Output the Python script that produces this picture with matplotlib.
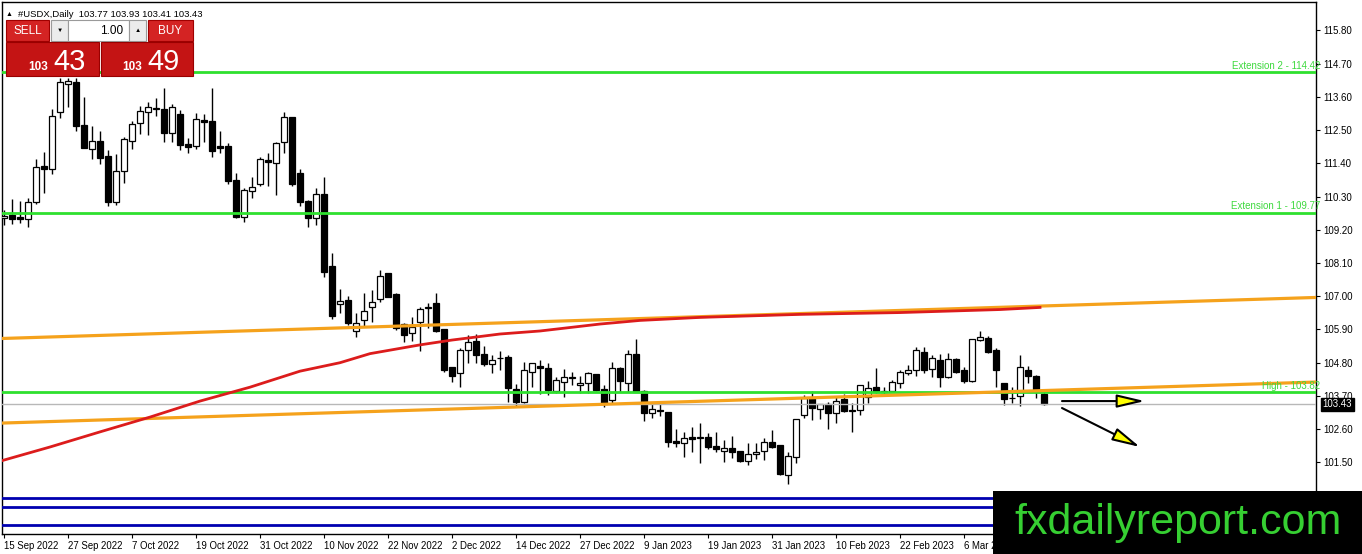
import numpy as np
import matplotlib.pyplot as plt
from matplotlib.patches import Rectangle

plt.rcParams['font.family'] = ['Liberation Sans', 'DejaVu Sans']

# daily candles
opens = [109.59, 109.69, 109.63, 109.55, 110.13, 111.31, 111.22, 113.11, 114.04, 114.09,
         112.67, 111.89, 112.14, 111.64, 110.13, 111.15, 112.15, 112.73, 113.09, 113.21,
         113.20, 112.40, 113.04, 112.04, 111.98, 112.84, 112.79, 111.98, 111.98, 110.85,
         109.63, 110.50, 110.72, 111.51, 111.42, 112.12, 112.93, 111.07, 110.15, 109.58,
         110.39, 108.00, 106.73, 106.88, 105.85, 106.21, 106.63, 106.90, 107.76, 107.08,
         106.07, 105.79, 106.16, 106.60, 106.79, 105.91, 104.65, 104.45, 105.22, 105.52,
         105.08, 104.75, 104.95, 105.00, 103.92, 103.51, 104.50, 104.69, 104.63, 103.88,
         104.17, 104.31, 104.05, 104.12, 104.42, 103.92, 103.56, 104.62, 104.14, 105.09,
         103.86, 103.13, 103.23, 103.18, 102.21, 102.13, 102.35, 102.32, 102.33, 102.04,
         101.88, 101.97, 101.88, 101.56, 101.77, 101.88, 102.16, 102.07, 101.08, 101.69,
         103.06, 103.62, 103.26, 103.42, 103.13, 103.60, 103.23, 103.23, 103.68, 103.98,
         103.84, 103.87, 104.12, 104.45, 104.56, 105.16, 104.59, 104.89, 104.32, 104.91,
         104.56, 104.20, 105.55, 105.61, 105.22, 104.12, 103.62, 103.70, 104.56, 104.36,
         103.77]
highs = [109.86, 110.21, 110.15, 110.26, 111.54, 111.79, 113.20, 114.22, 114.22, 114.22,
         113.61, 112.64, 112.48, 111.84, 111.71, 112.28, 112.81, 113.31, 113.44, 113.55,
         113.89, 113.37, 113.17, 112.23, 113.06, 113.04, 113.89, 112.48, 112.06, 111.09,
         110.58, 110.96, 111.62, 111.73, 112.12, 113.11, 112.93, 111.20, 110.19, 110.58,
         110.96, 108.42, 107.23, 107.01, 106.46, 107.10, 107.21, 107.87, 107.76, 107.10,
         106.11, 106.30, 106.65, 106.79, 107.10, 105.91, 104.65, 105.28, 105.72, 105.75,
         105.35, 105.05, 105.20, 105.05, 104.10, 104.83, 104.80, 104.89, 104.78, 104.34,
         104.58, 104.50, 104.36, 104.50, 104.42, 104.06, 104.83, 104.65, 105.22, 105.58,
         103.90, 103.43, 103.43, 103.18, 102.59, 102.52, 102.66, 102.81, 102.48, 102.52,
         102.24, 102.37, 101.89, 102.13, 102.15, 102.30, 102.57, 102.07, 101.85, 102.93,
         103.73, 103.87, 103.43, 103.51, 103.70, 103.76, 103.46, 104.06, 104.19, 104.61,
         104.01, 104.23, 104.56, 104.72, 105.31, 105.31, 105.05, 105.09, 105.11, 104.95,
         104.67, 105.58, 105.86, 105.68, 105.28, 104.12, 103.98, 105.05, 104.69, 104.39,
         103.93]
lows = [109.36, 109.39, 109.44, 109.30, 110.06, 110.41, 111.03, 112.89, 113.28, 112.47,
        111.92, 111.54, 111.39, 109.99, 110.02, 110.74, 111.88, 112.37, 112.34, 112.95,
        112.09, 112.09, 111.84, 111.73, 111.87, 112.12, 111.62, 111.73, 110.72, 109.58,
        109.47, 110.24, 110.65, 110.65, 110.35, 111.75, 110.65, 109.99, 109.30, 109.36,
        107.65, 106.24, 106.44, 106.05, 105.66, 105.99, 106.16, 106.82, 106.97, 105.88,
        105.50, 105.53, 105.20, 105.94, 105.83, 104.50, 104.17, 104.01, 104.78, 104.78,
        104.69, 104.45, 104.56, 103.51, 103.37, 103.48, 104.01, 103.76, 103.73, 103.81,
        103.68, 104.06, 103.81, 103.81, 103.87, 103.32, 103.43, 103.84, 103.84, 103.82,
        102.88, 102.96, 103.03, 102.02, 102.02, 101.69, 101.85, 101.47, 101.93, 101.85,
        101.52, 101.64, 101.52, 101.41, 101.60, 101.58, 101.99, 101.08, 100.77, 101.49,
        102.96, 102.90, 102.93, 102.60, 102.81, 103.18, 102.52, 103.07, 103.46, 103.81,
        103.73, 103.84, 103.95, 104.39, 104.36, 104.47, 104.34, 104.01, 104.28, 104.45,
        104.12, 104.17, 105.53, 105.11, 104.01, 103.40, 103.46, 103.37, 104.14, 103.62,
        103.41]
closes = [109.66, 109.57, 109.55, 110.13, 111.29, 111.22, 112.97, 114.09, 114.12, 112.65,
          111.92, 112.14, 111.59, 110.13, 111.15, 112.20, 112.70, 113.13, 113.26, 113.21,
          112.40, 113.26, 112.01, 111.95, 112.86, 112.78, 111.82, 111.92, 110.83, 109.63,
          110.52, 110.61, 111.54, 111.45, 112.06, 112.93, 110.72, 110.13, 109.58, 110.39,
          107.81, 106.35, 106.85, 106.11, 106.11, 106.51, 106.80, 107.67, 106.99, 105.94,
          105.72, 105.99, 106.57, 106.65, 105.86, 104.56, 104.37, 105.22, 105.50, 105.05,
          104.75, 104.89, 104.95, 103.95, 103.51, 104.56, 104.78, 104.61, 103.90, 104.23,
          104.32, 104.31, 104.14, 104.45, 103.90, 103.43, 104.61, 104.20, 105.09, 103.82,
          103.14, 103.27, 103.19, 102.18, 102.13, 102.32, 102.28, 102.32, 102.00, 101.93,
          101.97, 101.85, 101.56, 101.77, 101.85, 102.16, 102.02, 101.10, 101.71, 102.93,
          103.62, 103.29, 103.43, 103.14, 103.53, 103.21, 103.19, 104.06, 103.95, 103.84,
          103.84, 104.15, 104.48, 104.56, 105.22, 104.56, 104.95, 104.34, 104.91, 104.48,
          104.20, 105.58, 105.64, 105.16, 104.56, 103.59, 103.62, 104.67, 104.36, 103.90,
          103.43]

date_labels = ['15 Sep 2022', '27 Sep 2022', '7 Oct 2022', '19 Oct 2022', '31 Oct 2022',
               '10 Nov 2022', '22 Nov 2022', '2 Dec 2022', '14 Dec 2022', '27 Dec 2022',
               '9 Jan 2023', '19 Jan 2023', '31 Jan 2023', '10 Feb 2023', '22 Feb 2023',
               '6 Mar 2023']
date_pos = [0, 8, 16, 24, 32, 40, 48, 56, 64, 72, 80, 88, 96, 104, 112, 120]

price_ticks = [101.50, 102.60, 103.70, 104.80, 105.90, 107.00, 108.10,
               109.20, 110.30, 111.40, 112.50, 113.60, 114.70, 115.80]

# moving average (red)
ma_idx = [-0.5, 5.75, 12, 18.25, 24.5, 30.75, 37, 42, 45.75, 52, 56, 62,
          67, 74.5, 79.5, 87, 99.5, 112, 124.5, 129.5]
ma_val = [101.54, 102.01, 102.51, 103.00, 103.53, 103.99, 104.52, 104.80, 105.10, 105.39, 105.55, 105.75,
          105.85, 106.08, 106.20, 106.30, 106.40, 106.46, 106.56, 106.63]

# channel (orange)
chan_idx = [-0.5, 164]
chan_upper = [105.60, 106.96]
chan_lower = [102.80, 104.16]

levels = [114.42, 109.77, 103.82]
level_names = ['Extension 2 - 114.42', 'Extension 1 - 109.77', 'High - 103.82']
blue_levels = [100.33, 100.03, 99.43]
last_price = 103.43

# projection arrows: (start idx, start price, end idx, end price)
arrows = [(132.25, 103.53, 142.6, 103.53),
          (132.25, 103.30, 142.0, 102.01)]

W, H = 1362, 554
fig = plt.figure(figsize=(W / 100, H / 100), dpi=100)
ax = fig.add_axes([2 / W, 1 - 534 / H, 1314 / W, 532 / H])
ax.set_xlim(-0.25, 164)
ax.set_ylim(99.13, 116.74)

x = np.arange(len(opens))
o = np.array(opens)
c = np.array(closes)
ax.vlines(x, lows, highs, color='black', lw=1, zorder=2)
bottoms = np.minimum(o, c)
heights = np.maximum(np.abs(c - o), 0.015)
faces = ['white' if cc >= oo else 'black' for oo, cc in zip(o, c)]
ax.bar(x, heights, bottom=bottoms, width=0.7, color=faces, edgecolor='black', linewidth=0.9, zorder=3)

for lv, name in zip(levels, level_names):
    ax.axhline(lv, color='#2ee02e', lw=2, zorder=4)
    ax.text(1.003, lv + 0.04, name, transform=ax.get_yaxis_transform(), ha='right', va='bottom',
            color='#3ed93e', fontsize=7, zorder=6)
for lv in blue_levels:
    ax.axhline(lv, color='#0000b0', lw=2, zorder=4)
ax.axhline(last_price, color='#b8b8b8', lw=1, zorder=4)

ax.plot(chan_idx, chan_upper, color='#f5a21c', lw=2.3, zorder=4)
ax.plot(chan_idx, chan_lower, color='#f5a21c', lw=2.3, zorder=4)
ax.plot(ma_idx, ma_val, color='#dc1c1c', lw=2, zorder=5)

for x0, y0, x1, y1 in arrows:
    ax.annotate('', xy=(x1, y1), xytext=(x0, y0),
                arrowprops=dict(arrowstyle='-|>,head_length=1.7,head_width=0.4',
                                fc='#ffff00', ec='black', lw=1.5, shrinkA=0, shrinkB=0), zorder=6)

# axes styling, MT4 style
for s in ax.spines.values():
    s.set_color('black')
    s.set_linewidth(1)
ax.yaxis.tick_right()
ax.set_yticks(price_ticks)
ax.set_yticklabels(['%.2f' % p for p in price_ticks])
ax.tick_params(axis='y', length=3, pad=2, labelsize=7, colors='black')
ax.set_xticks(date_pos)
ax.set_xticklabels(date_labels)
ax.tick_params(axis='x', length=3, pad=2, labelsize=6.9)
for lab in ax.get_xticklabels():
    lab.set_ha('left')

ax.text(1.005, last_price, '%.2f' % last_price, transform=ax.get_yaxis_transform(), ha='left', va='center',
        color='white', fontsize=7, zorder=7,
        bbox=dict(boxstyle='square,pad=0.15', fc='black', ec='black'))

ax.text(0.012, 0.985, '#USDX,Daily  103.77 103.93 103.41 103.43', transform=ax.transAxes,
        ha='left', va='top', fontsize=6.8, zorder=7)
ax.text(0.003, 0.984, '▲', transform=ax.transAxes, ha='left', va='top', fontsize=5, zorder=7)

# overlay in pixel coordinates: trade panel and watermark
ov = fig.add_axes([0, 0, 1, 1])
ov.set_xlim(0, W)
ov.set_ylim(H, 0)
ov.axis('off')
ov.patch.set_alpha(0)

red_btn = '#d42323'
red_box = '#c41414'
ov.add_patch(Rectangle((6, 20), 43, 21, fc=red_btn, ec='#a00000', lw=0.8))
ov.text(27.5, 31, 'SELL', color='white', fontsize=8.5, ha='center', va='center')
ov.add_patch(Rectangle((51, 20), 17, 21, fc='#ececec', ec='#9a9a9a', lw=0.8))
ov.text(59.5, 30.5, '▼', fontsize=4.5, ha='center', va='center')
ov.add_patch(Rectangle((68, 20), 61, 21, fc='white', ec='#9a9a9a', lw=0.8))
ov.text(123, 30.5, '1.00', fontsize=8.5, ha='right', va='center')
ov.add_patch(Rectangle((129, 20), 17, 21, fc='#ececec', ec='#9a9a9a', lw=0.8))
ov.text(137.5, 30.5, '▲', fontsize=4.5, ha='center', va='center')
ov.add_patch(Rectangle((148, 20), 45, 21, fc=red_btn, ec='#a00000', lw=0.8))
ov.text(170.5, 31, 'BUY', color='white', fontsize=8.5, ha='center', va='center')

ov.add_patch(Rectangle((6, 42), 93, 34, fc=red_box, ec='#990000', lw=0.8))
ov.add_patch(Rectangle((101, 42), 92, 34, fc=red_box, ec='#990000', lw=0.8))
ov.text(48, 70, '103', color='white', fontsize=8.5, fontweight='bold', ha='right', va='baseline')
ov.text(53, 70, '43', color='white', fontsize=21, ha='left', va='baseline')
ov.text(142, 70, '103', color='white', fontsize=8.5, fontweight='bold', ha='right', va='baseline')
ov.text(147, 70, '49', color='white', fontsize=21, ha='left', va='baseline')

ov.add_patch(Rectangle((993, 491), W - 993, H - 491, fc='black', ec='none'))
ov.text(1178, 523, 'fxdailyreport.com', color='#36cf32', fontsize=31, ha='center', va='center')

fig.savefig('out.png', dpi=100)
